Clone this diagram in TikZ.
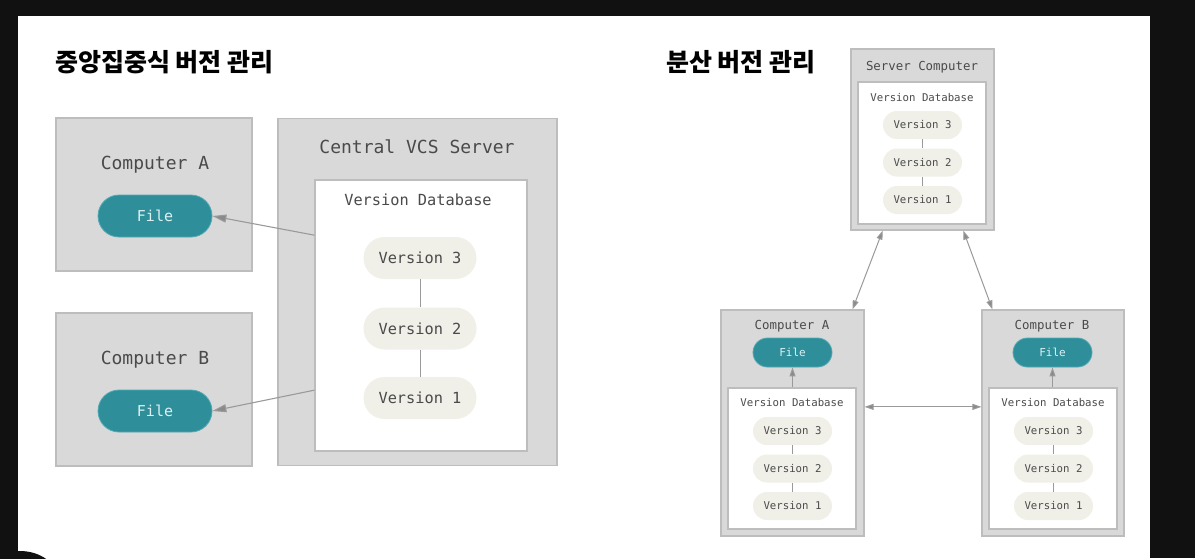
\documentclass[tikz,border=0pt]{standalone}
\usepackage{fontspec}
\setmonofont{DejaVu Sans Mono}
\newfontfamily\kr{Noto Sans CJK KR}
\usetikzlibrary{arrows.meta,calc}
\definecolor{frame}{HTML}{111111}
\definecolor{boxfill}{HTML}{D9D9D9}
\definecolor{boxline}{HTML}{BDBDBD}
\definecolor{dbline}{HTML}{BDBDBD}
\definecolor{verfill}{HTML}{F0F0E8}
\definecolor{txt}{HTML}{4A4A4A}
\definecolor{teal}{HTML}{2E8F9A}
\definecolor{tealline}{HTML}{52AAB4}
\definecolor{filetxt}{HTML}{DDF0F1}
\definecolor{arrcol}{HTML}{9A9A9A}
\definecolor{headcol}{HTML}{8A8A8A}
\tikzset{
  outerbox/.style={draw=boxline,fill=boxfill,line width=1.2pt,inner sep=0pt},
  dbbox/.style={draw=dbline,fill=white,line width=1.2pt,inner sep=0pt},
  lbl/.style={text=txt,inner sep=0pt,text depth=0pt},
  fsA/.style={font=\ttfamily\fontsize{18}{18}\selectfont,text height=13.1pt,text depth=0pt},
  fsB/.style={font=\ttfamily\fontsize{15.3}{15.3}\selectfont,text height=11.15pt,text depth=0pt},
  fsC/.style={font=\ttfamily\fontsize{12.4}{12.4}\selectfont,text height=9.04pt,text depth=0pt},
  fsD/.style={font=\ttfamily\fontsize{10.7}{10.7}\selectfont,text height=7.8pt,text depth=0pt},
  fsE/.style={font=\ttfamily\fontsize{11}{11}\selectfont,text height=8.02pt,text depth=0pt},
  fsF/.style={font=\ttfamily\fontsize{15}{15}\selectfont,text height=10.93pt,text depth=0pt},
  verpill/.style={fill=verfill,rounded corners=#1,inner sep=0pt,text=txt},
  filepill/.style={fill=teal,draw=tealline,line width=0.8pt,rounded corners=#1,inner sep=0pt,text=filetxt},
  bigarr/.style={draw=arrcol,line width=1.1pt,-{Triangle[length=14pt,width=8pt,fill=headcol]}},
  smallarr/.style={draw=arrcol,line width=1pt,-{Triangle[length=9pt,width=6pt,fill=headcol]}},
  smalldbl/.style={draw=arrcol,line width=1pt,{Triangle[length=9pt,width=6pt,fill=headcol]}-{Triangle[length=9pt,width=6pt,fill=headcol]}},
  vline/.style={draw=arrcol,line width=1pt},
  title/.style={font=\kr\bfseries\fontsize{25}{25}\selectfont,text=black,inner sep=0pt,anchor=west}
}
\begin{document}
\begin{tikzpicture}[x=1pt,y=-1pt]
\useasboundingbox (0,0) rectangle (1195,558);
\fill[frame] (0,0) rectangle (1195,558);
\fill[white] (18,16) rectangle (1150,558);
\fill[frame] (20,580) ellipse [x radius=38, y radius=29];

% titles
\node[title] (t1) at (55,62) {중앙집중식 버전 관리};
\node[title] (t2) at (666,62) {분산 버전 관리};

% ---------- left: centralized ----------
\node[outerbox,minimum width=196pt,minimum height=153pt] (cA) at (154,194.5) {};
\node[outerbox,minimum width=196pt,minimum height=153pt] (cB) at (154,389.5) {};
\node[outerbox,minimum width=279pt,minimum height=347pt] (srvC) at (417.5,292) {};
\node[dbbox,minimum width=212pt,minimum height=271pt] (cdb) at (421,315.5) {};

\node[lbl,fsA] (lA) at (155,163) {Computer A};
\node[lbl,fsA] (lB) at (155,358) {Computer B};
\node[lbl,fsA] (lS) at (417,147) {Central VCS Server};
\node[lbl,fsB] (lD) at (418,200) {Version Database};

\node[filepill=21pt,fsF,minimum width=114pt,minimum height=42pt] (fA) at (155,216) {File};
\node[filepill=21pt,fsF,minimum width=114pt,minimum height=42pt] (fB) at (155,411) {File};

\node[verpill=21pt,fsB,minimum width=113pt,minimum height=42pt] (v3) at (420,258) {Version 3};
\node[verpill=21pt,fsB,minimum width=113pt,minimum height=42pt] (v2) at (420,328.5) {Version 2};
\node[verpill=21pt,fsB,minimum width=113pt,minimum height=42pt] (v1) at (420,398) {Version 1};
\draw[vline] (v3) -- (v2);
\draw[vline] (v2) -- (v1);

\draw[bigarr] (cdb.143) -- (fA.east);
\draw[bigarr] (cdb.215) -- (fB.east);

% ---------- right: distributed ----------
\node[outerbox,minimum width=143pt,minimum height=181pt] (srv) at (922.5,139.5) {};
\node[dbbox,minimum width=128pt,minimum height=142pt] (sdb) at (922,153) {};
\node[lbl,fsC] (lsrv) at (922,66) {Server Computer};
\node[lbl,fsD] (lsdb) at (922,98) {Version Database};
\node[verpill=14pt,fsD,minimum width=79pt,minimum height=28pt] (sv3) at (922.5,125) {Version 3};
\node[verpill=14pt,fsD,minimum width=79pt,minimum height=28pt] (sv2) at (922.5,162.5) {Version 2};
\node[verpill=14pt,fsD,minimum width=79pt,minimum height=28pt] (sv1) at (922.5,200) {Version 1};
\draw[vline] (sv3) -- (sv2);
\draw[vline] (sv2) -- (sv1);

% computer A
\node[outerbox,minimum width=143pt,minimum height=226pt] (rA) at (792.5,423) {};
\node[dbbox,minimum width=128pt,minimum height=141pt] (rAdb) at (792,458.5) {};
\node[lbl,fsC] (lrA) at (792,325) {Computer A};
\node[filepill=14.5pt,fsE,minimum width=79pt,minimum height=29pt] (rAf) at (792.5,352.5) {File};
\node[lbl,fsD] (lrAdb) at (792,403) {Version Database};
\node[verpill=14pt,fsD,minimum width=79pt,minimum height=28pt] (rAv3) at (792.5,431) {Version 3};
\node[verpill=14pt,fsD,minimum width=79pt,minimum height=28pt] (rAv2) at (792.5,468.5) {Version 2};
\node[verpill=14pt,fsD,minimum width=79pt,minimum height=28pt] (rAv1) at (792.5,506) {Version 1};
\draw[vline] (rAv3) -- (rAv2);
\draw[vline] (rAv2) -- (rAv1);
\draw[smallarr] (rAdb.north -| rAf.south) -- (rAf.south);

% computer B
\node[outerbox,minimum width=142pt,minimum height=226pt] (rB) at (1053,423) {};
\node[dbbox,minimum width=128pt,minimum height=141pt] (rBdb) at (1053,458.5) {};
\node[lbl,fsC] (lrB) at (1052,325) {Computer B};
\node[filepill=14.5pt,fsE,minimum width=79pt,minimum height=29pt] (rBf) at (1052.5,352.5) {File};
\node[lbl,fsD] (lrBdb) at (1053,403) {Version Database};
\node[verpill=14pt,fsD,minimum width=79pt,minimum height=28pt] (rBv3) at (1053.5,431) {Version 3};
\node[verpill=14pt,fsD,minimum width=79pt,minimum height=28pt] (rBv2) at (1053.5,468.5) {Version 2};
\node[verpill=14pt,fsD,minimum width=79pt,minimum height=28pt] (rBv1) at (1053.5,506) {Version 1};
\draw[vline] (rBv3) -- (rBv2);
\draw[vline] (rBv2) -- (rBv1);
\draw[smallarr] (rBdb.north -| rBf.south) -- (rBf.south);

% links
\draw[smalldbl] ($(srv.south west)!0.224!(srv.south east)$) -- ($(rA.north west)!0.916!(rA.north east)$);
\draw[smalldbl] ($(srv.south west)!0.783!(srv.south east)$) -- ($(rB.north west)!0.077!(rB.north east)$);
\draw[smalldbl] ($(rA.north east)!0.429!(rA.south east)$) -- ($(rB.north west)!0.429!(rB.south west)$);
\end{tikzpicture}
\end{document}
